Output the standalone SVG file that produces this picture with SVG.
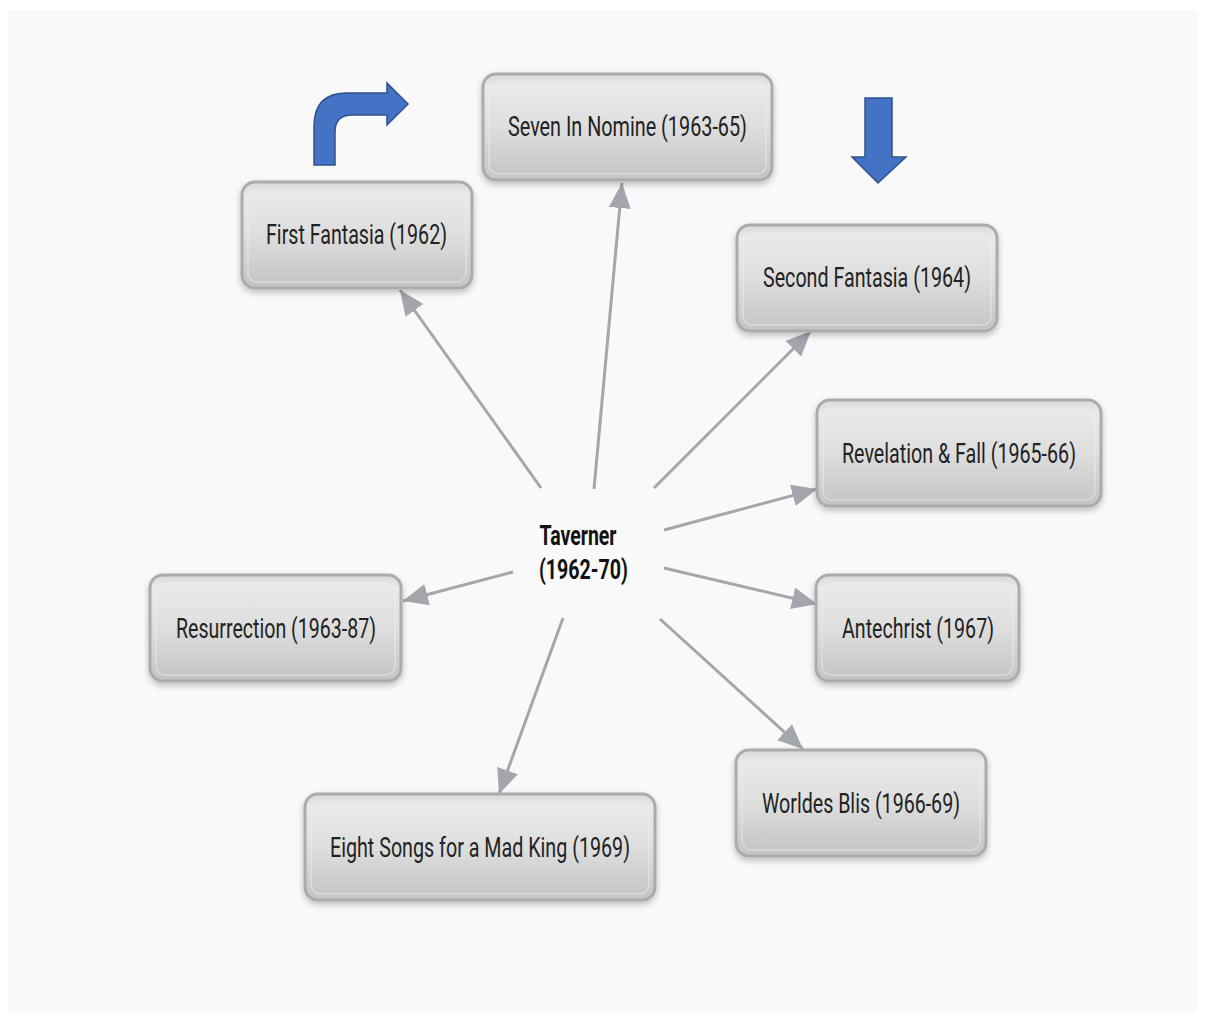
<svg xmlns="http://www.w3.org/2000/svg" width="1205" height="1023" viewBox="0 0 1205 1023">
<defs>
<linearGradient id="nodeGrad" x1="0" y1="0" x2="0" y2="1">
<stop offset="0" stop-color="#d9d9d9"/>
<stop offset="0.12" stop-color="#e9e9e9"/>
<stop offset="0.5" stop-color="#dedede"/>
<stop offset="1" stop-color="#c3c3c3"/>
</linearGradient>
<filter id="shadow" x="-10%" y="-10%" width="120%" height="130%">
<feDropShadow dx="0" dy="3" stdDeviation="3" flood-color="#000" flood-opacity="0.25"/>
</filter>
<marker id="arr" markerUnits="userSpaceOnUse" markerWidth="28" markerHeight="24" refX="25" refY="11" orient="auto">
<path d="M0,0 L25,11 L0,22 Z" fill="#a4a6ad"/>
</marker>
<style>
.box{fill:url(#nodeGrad);stroke:#ababab;stroke-width:3;filter:url(#shadow)}
.hl{fill:none;stroke:#f2f2f2;stroke-width:1.5;opacity:0.45}
.lbl{font-family:Roboto,"Liberation Sans",sans-serif;font-size:28px;fill:#222;text-anchor:middle}
.ctr{font-family:Roboto,"Liberation Sans",sans-serif;font-size:27px;font-weight:bold;fill:#111;text-anchor:middle}
.conn{stroke:#a4a6ad;stroke-width:3;fill:none;marker-end:url(#arr)}
.blue{fill:#4472c4;stroke:#2f528f;stroke-width:1.5}
</style>
</defs>
<rect x="0" y="0" width="1205" height="1023" fill="#ffffff"/>
<rect x="8" y="10" width="1189" height="1003" fill="#f9f9f9"/>

<g id="connectors">
<line class="conn" x1="541" y1="488" x2="400" y2="290"/>
<line class="conn" x1="594" y1="489" x2="622" y2="183"/>
<line class="conn" x1="654" y1="488" x2="811" y2="331"/>
<line class="conn" x1="664" y1="530" x2="817" y2="489"/>
<line class="conn" x1="664" y1="568" x2="817" y2="604"/>
<line class="conn" x1="660" y1="619" x2="803" y2="749"/>
<line class="conn" x1="563" y1="618" x2="499" y2="794"/>
<line class="conn" x1="513" y1="572" x2="403" y2="601"/>
</g>

<g id="blue-arrows">
<path class="blue" d="M314,165 L314,126 Q314,93 347,93 L387,93 L387,83 L408,104 L387,125 L387,115 L352,115 Q335,115 335,132 L335,165 Z"/>
<path class="blue" d="M865,98 L892,98 L892,157 L906,157 L878,183 L852,157 L865,157 Z"/>
</g>

<g id="center">
<text class="ctr" x="578" y="545" textLength="77" lengthAdjust="spacingAndGlyphs">Taverner</text>
<text class="ctr" x="583.5" y="579" textLength="89" lengthAdjust="spacingAndGlyphs">(1962-70)</text>
</g>

<g id="first-fantasia">
<rect class="box" x="242" y="182" width="230" height="106" rx="13"/>
<rect class="hl" x="248" y="190" width="218" height="92" rx="9"/>
<text class="lbl" x="356.5" y="244" textLength="181" lengthAdjust="spacingAndGlyphs">First Fantasia (1962)</text>
</g>

<g id="seven-in-nomine">
<rect class="box" x="483" y="74" width="289" height="106" rx="13"/>
<rect class="hl" x="489" y="82" width="277" height="92" rx="9"/>
<text class="lbl" x="627.5" y="136" textLength="239" lengthAdjust="spacingAndGlyphs">Seven In Nomine (1963-65)</text>
</g>

<g id="second-fantasia">
<rect class="box" x="737" y="225" width="260" height="106" rx="13"/>
<rect class="hl" x="743" y="233" width="248" height="92" rx="9"/>
<text class="lbl" x="867" y="287" textLength="208" lengthAdjust="spacingAndGlyphs">Second Fantasia (1964)</text>
</g>

<g id="revelation-fall">
<rect class="box" x="817" y="400" width="284" height="106" rx="13"/>
<rect class="hl" x="823" y="408" width="272" height="92" rx="9"/>
<text class="lbl" x="959" y="463" textLength="234" lengthAdjust="spacingAndGlyphs">Revelation &amp; Fall (1965-66)</text>
</g>

<g id="antechrist">
<rect class="box" x="816" y="575" width="203" height="106" rx="13"/>
<rect class="hl" x="822" y="583" width="191" height="92" rx="9"/>
<text class="lbl" x="918" y="638" textLength="152" lengthAdjust="spacingAndGlyphs">Antechrist (1967)</text>
</g>

<g id="worldes-blis">
<rect class="box" x="736" y="750" width="250" height="106" rx="13"/>
<rect class="hl" x="742" y="758" width="238" height="92" rx="9"/>
<text class="lbl" x="861" y="813" textLength="198" lengthAdjust="spacingAndGlyphs">Worldes Blis (1966-69)</text>
</g>

<g id="eight-songs">
<rect class="box" x="305" y="794" width="350" height="106" rx="13"/>
<rect class="hl" x="311" y="802" width="338" height="92" rx="9"/>
<text class="lbl" x="480" y="857" textLength="300" lengthAdjust="spacingAndGlyphs">Eight Songs for a Mad King (1969)</text>
</g>

<g id="resurrection">
<rect class="box" x="150" y="575" width="251" height="106" rx="13"/>
<rect class="hl" x="156" y="583" width="239" height="92" rx="9"/>
<text class="lbl" x="276" y="638" textLength="200" lengthAdjust="spacingAndGlyphs">Resurrection (1963-87)</text>
</g>
</svg>
